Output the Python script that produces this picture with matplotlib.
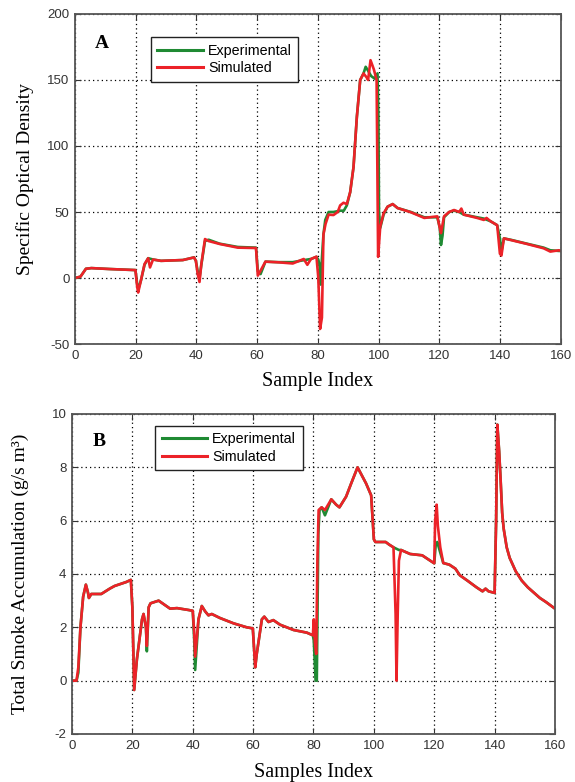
import matplotlib
matplotlib.use("Agg")
import matplotlib.pyplot as plt
import numpy as np

plt.rcParams["axes.unicode_minus"] = False

# (sample index, value) pairs
a_exp = [(0, 0), (1.8, 1), (3.6, 7), (5.4, 7.5), (11.4, 6.8), (19.9, 6), (20.5, -5), (20.9, -8),
         (21.7, -2), (22.9, 10), (24.1, 15), (25.7, 14), (28.3, 13), (35.5, 13.6), (39.2, 15.6),
         (39.8, 13), (40.4, 5), (41, 0), (41.6, 10), (42.8, 28), (44, 29), (47.6, 26), (53.6, 23.5),
         (59.6, 23), (60.2, 5), (61.1, 3), (62.7, 12.4), (66.9, 12), (71.7, 12), (75.3, 13.5),
         (77.7, 14.4), (79.5, 16), (80.1, 14), (80.5, 10), (80.9, -5), (81.3, 15), (81.8, 33),
         (82.4, 44), (83.5, 50), (85.1, 50), (87.3, 51), (88.5, 51), (89.5, 55), (90.6, 65),
         (91.7, 84), (92.8, 122), (93.9, 150), (95, 155), (95.7, 160), (96.5, 157), (97.5, 153),
         (98.7, 151), (99.6, 155), (99.9, 120), (100.1, 50), (100.5, 38), (101.6, 48), (102.9, 54),
         (104.6, 56), (106.2, 53), (110.6, 50), (115, 46), (119.3, 46), (120.1, 38), (120.5, 25),
         (121, 32), (121.5, 46), (123.2, 50), (124.8, 51), (126.5, 50), (128, 48), (132.4, 46),
         (134.6, 45), (136.8, 43), (139, 40), (139.9, 30), (140.4, 20), (141.2, 30), (143.4, 29),
         (148.8, 26), (154.3, 23), (156.5, 21), (159.3, 20.5), (160, 20.5)]

a_sim = [(0, 0), (1.8, 1), (3.6, 7), (5.4, 7.5), (11.4, 6.8), (19.9, 6), (20.5, -7), (20.8, -11),
         (21.7, -2), (22.9, 10.6), (24.1, 15), (24.7, 8), (25.7, 14), (28.3, 13), (35.5, 13.6),
         (39.2, 15.6), (39.8, 13), (40.4, 3), (41, -3), (41.6, 10.6), (42.8, 29.5), (44, 28),
         (47.6, 25.8), (53.6, 23), (59.6, 22.7), (60.2, 1.8), (61.1, 5.6), (62.7, 12.4), (66.9, 11.9),
         (71.7, 11), (75.3, 14.4), (76.5, 10), (77.7, 14.4), (79.5, 16.2), (80.1, 0.5), (80.7, -38.6),
         (81.3, -30), (81.8, 33), (82.5, 41), (83.5, 48), (85.1, 47.7), (86.5, 50), (87.3, 55),
         (88.4, 57), (89.5, 56), (90.6, 65), (91.7, 84), (92.8, 122), (93.9, 150), (95, 155),
         (96, 152), (96.5, 150), (97.3, 165), (98.4, 158), (99.3, 150), (99.8, 16), (100.5, 39),
         (101.6, 49), (102.9, 54), (104.6, 56), (106.2, 53), (110.6, 49.8), (115, 45.5),
         (119.3, 46.7), (120.1, 38), (120.5, 34), (121.5, 46.7), (123.2, 50), (124.8, 51.5),
         (126.5, 50), (127.2, 52.6), (128, 48), (132.4, 45.5), (134.6, 44), (135.5, 45.5),
         (136.8, 43), (139, 40), (139.9, 18.4), (140.4, 17), (141.2, 30), (143.4, 28.8),
         (148.8, 25.8), (154.3, 22.5), (156.5, 20), (159.3, 21), (160, 20.5)]

b_exp = [(0, 0), (1.5, 0), (2.1, 0.3), (2.8, 2.0), (3.7, 3.15), (4.6, 3.6), (5.3, 3.3), (5.6, 3.1),
         (6.4, 3.25), (9.7, 3.25), (12.5, 3.45), (14.1, 3.55), (18, 3.7), (19.5, 3.78), (20, 2.75),
         (20.6, -0.35), (21.5, 0.8), (23.2, 2.3), (23.7, 2.5), (24.5, 2.0), (24.8, 1.1), (25.4, 2.75),
         (26, 2.9), (28.7, 3.0), (32.5, 2.7), (34.8, 2.72), (38.6, 2.65), (40, 2.62), (40.5, 1.5),
         (40.8, 0.4), (41.9, 2.3), (43, 2.8), (44.1, 2.6), (45.2, 2.45), (46.3, 2.5), (49, 2.35),
         (53.5, 2.15), (57.9, 2.0), (59.9, 1.96), (60.7, 0.5), (61.2, 1.0), (62.9, 2.3), (63.7, 2.4),
         (65.1, 2.2), (66.7, 2.27), (68.9, 2.1), (73.4, 1.9), (77.8, 1.8), (79.8, 1.7), (80.1, 1.5),
         (80.7, 0), (81.1, 0), (81.6, 5.5), (82, 6.4), (82.7, 6.5), (83.8, 6.2), (85.9, 6.8),
         (87.5, 6.6), (88.6, 6.5), (90.8, 6.9), (92.5, 7.4), (94.6, 8.0), (97.4, 7.4), (99.1, 6.95),
         (100, 5.3), (100.5, 5.2), (103.9, 5.2), (105.1, 5.1), (106.5, 5.0), (108.3, 4.9), (109, 4.9),
         (112, 4.75), (116, 4.7), (118, 4.55), (120, 4.4), (120.5, 5.1), (121, 5.2), (122, 4.8),
         (123, 4.41), (125, 4.35), (127, 4.2), (128.5, 3.95), (131, 3.75), (134, 3.5), (136, 3.35),
         (137, 3.45), (138, 3.35), (140, 3.29), (140.5, 6), (140.9, 9.6), (141.5, 8.6), (142, 7.5),
         (142.5, 6.3), (143, 5.7), (144, 5.0), (145, 4.6), (147, 4.1), (149, 3.75), (151, 3.5),
         (153, 3.3), (155, 3.1), (157, 2.95), (160, 2.7)]

b_sim = [(0, 0), (1.5, 0), (2.1, 0.5), (2.8, 2.0), (3.7, 3.15), (4.6, 3.6), (5.3, 3.3), (5.6, 3.1),
         (6.4, 3.25), (9.7, 3.25), (12.5, 3.45), (14.1, 3.55), (18, 3.7), (19.5, 3.78), (20, 2.75),
         (20.6, -0.35), (21.5, 0.8), (23.2, 2.3), (23.7, 2.5), (24.5, 2.0), (24.8, 1.3), (25.4, 2.75),
         (26, 2.9), (28.7, 3.0), (32.5, 2.7), (34.8, 2.72), (38.6, 2.65), (40, 2.62), (40.5, 1.8),
         (40.8, 0.9), (41.9, 2.3), (43, 2.8), (44.1, 2.6), (45.2, 2.45), (46.3, 2.5), (49, 2.35),
         (53.5, 2.15), (57.9, 2.0), (59.9, 1.96), (60.7, 0.5), (61.2, 1.0), (62.9, 2.3), (63.7, 2.4),
         (65.1, 2.2), (66.7, 2.27), (68.9, 2.1), (73.4, 1.9), (77.8, 1.8), (79.8, 1.7), (80.1, 2.3),
         (80.5, 1.4), (80.9, 1.0), (81.3, 4.5), (81.7, 6.4), (82.7, 6.5), (83.8, 6.4), (85.9, 6.8),
         (87.5, 6.6), (88.6, 6.5), (90.8, 6.9), (92.5, 7.4), (94.6, 8.0), (97.4, 7.4), (99.1, 6.95),
         (100, 5.3), (100.5, 5.2), (103.9, 5.2), (105.1, 5.1), (106.5, 5.0), (107.2, 2.5), (107.5, 0),
         (107.9, 2.5), (108.3, 4.5), (109, 4.9), (112, 4.75), (116, 4.7), (118, 4.55), (120, 4.4),
         (120.3, 6.0), (120.8, 6.6), (121.2, 5.8), (122, 5.0), (123, 4.41), (125, 4.35), (127, 4.2),
         (128.5, 3.95), (131, 3.75), (134, 3.5), (136, 3.35), (137, 3.45), (138, 3.35), (140, 3.29),
         (140.5, 6), (140.9, 9.6), (141.5, 8.6), (142, 7.5), (142.5, 6.3), (143, 5.7), (144, 5.0),
         (145, 4.6), (147, 4.1), (149, 3.75), (151, 3.5), (153, 3.3), (155, 3.1), (157, 2.95),
         (160, 2.7)]

x_ticks = [0, 20, 40, 60, 80, 100, 120, 140, 160]
a_yticks = [-50, 0, 50, 100, 150, 200]
b_yticks = [-2, 0, 2, 4, 6, 8, 10]

GREEN = "#1f8a33"
RED = "#ec2228"
SERIF = "Liberation Serif"
SANS = "Liberation Sans"


def draw_panel(ax, exp, sim, yticks, letter, letter_xy, ylabel, xlabel, legend_xy):
    ex = np.array(exp)
    sm = np.array(sim)
    ax.plot(ex[:, 0], ex[:, 1], color=GREEN, lw=1.9, label="Experimental")
    ax.plot(sm[:, 0], sm[:, 1], color=RED, lw=1.9, label="Simulated")

    ax.set_xlim(0, 160)
    ax.set_ylim(yticks[0], yticks[-1])
    ax.set_xticks(x_ticks)
    ax.set_yticks(yticks)
    ax.grid(True, color="black", linestyle=(0, (1, 2.5)), linewidth=0.9)

    ax.tick_params(direction="in", top=True, right=True, length=4, width=0.8,
                   colors="#333333", labelsize=9.5, pad=4)
    for lab in ax.get_xticklabels() + ax.get_yticklabels():
        lab.set_fontfamily(SANS)
    for s in ax.spines.values():
        s.set_color("#555555")
        s.set_linewidth(1.3)

    ax.set_ylabel(ylabel, fontfamily=SERIF, fontsize=14)
    ax.set_xlabel(xlabel, fontfamily=SERIF, fontsize=14.5)

    ax.text(letter_xy[0], letter_xy[1], letter, fontfamily=SERIF, fontweight="bold",
            fontsize=14, ha="center", va="center")

    leg = ax.legend(loc="upper left", bbox_to_anchor=legend_xy, borderaxespad=0,
                    prop={"family": SANS, "size": 10.3}, fancybox=False, framealpha=1,
                    edgecolor="#222222", handlelength=3.2, handletextpad=0.35,
                    labelspacing=0.25, borderpad=0.45)
    leg.get_frame().set_linewidth(1.0)
    for ln in leg.get_lines():
        ln.set_linewidth(2.2)


fig = plt.figure(figsize=(5.75, 7.82), dpi=100)
ax_a = fig.add_axes([0.1304, 0.5601, 0.8452, 0.4220])
ax_b = fig.add_axes([0.1252, 0.0614, 0.8400, 0.4092])

draw_panel(ax_a, a_exp, a_sim, a_yticks, "A", (8.9, 178), "Specific Optical Density",
           "Sample Index", (0.156, 0.929))
draw_panel(ax_b, b_exp, b_sim, b_yticks, "B", (9.0, 8.96), "Total Smoke Accumulation (g/s m³)",
           "Samples Index", (0.172, 0.963))

ax_a.yaxis.set_label_coords(-0.085, 0.5)
ax_a.xaxis.set_label_coords(0.5, -0.085)
ax_b.yaxis.set_label_coords(-0.088, 0.5)
ax_b.xaxis.set_label_coords(0.5, -0.092)

fig.savefig("out.png", dpi=100, facecolor="white")
